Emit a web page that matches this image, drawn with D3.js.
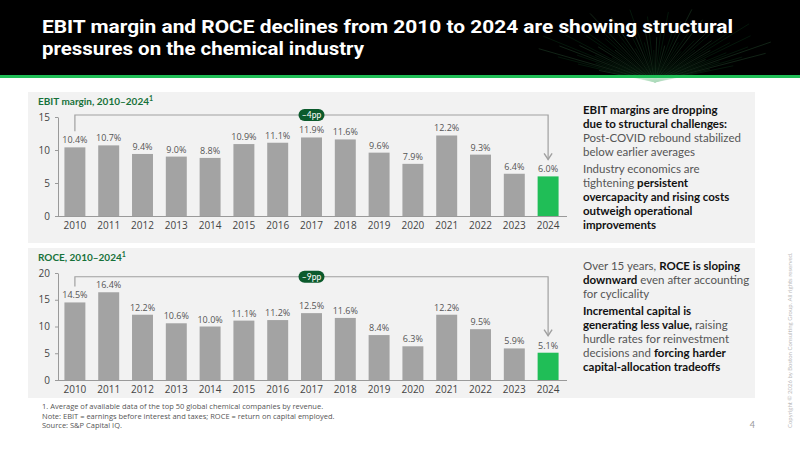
<!DOCTYPE html>
<html>
<head>
<meta charset="utf-8">
<script src="https://cdn.jsdelivr.net/npm/d3@7"></script>
<style>
  body { margin: 0; background: #fff; }
  svg { display: block; font-family: Lato, 'Noto Sans', sans-serif; }
</style>
</head>
<body>
<div id="chart"></div>
<script>
const years = ['2010', '2011', '2012', '2013', '2014', '2015', '2016', '2017',
  '2018', '2019', '2020', '2021', '2022', '2023', '2024'];
const ebitMargin = [10.4, 10.7, 9.4, 9.0, 8.8, 10.9, 11.1, 11.9, 11.6, 9.6, 7.9, 12.2, 9.3, 6.4, 6.0];
const roce = [14.5, 16.4, 12.2, 10.6, 10.0, 11.1, 11.2, 12.5, 11.6, 8.4, 6.3, 12.2, 9.5, 5.9, 5.1];
const ebitTicks = [0, 5, 10, 15];
const roceTicks = [0, 5, 10, 15, 20];

const titleLines = [
  'EBIT margin and ROCE declines from 2010 to 2024 are showing structural',
  'pressures on the chemical industry'
];

// each text line is a list of [text, bold] runs
const ebitNotes = [
  [['EBIT margins are dropping', true]],
  [['due to structural challenges:', true]],
  [['Post-COVID rebound stabilized', false]],
  [['below earlier averages', false]],
  null,
  [['Industry economics are', false]],
  [['tightening ', false], ['persistent', true]],
  [['overcapacity and rising costs', true]],
  [['outweigh operational', true]],
  [['improvements', true]]
];
const roceNotes = [
  [['Over 15 years, ', false], ['ROCE is sloping', true]],
  [['downward', true], [' even after accounting', false]],
  [['for cyclicality', false]],
  null,
  [['Incremental capital is', true]],
  [['generating less value,', true], [' raising', false]],
  [['hurdle rates for reinvestment', false]],
  [['decisions and ', false], ['forcing harder', true]],
  [['capital-allocation tradeoffs', true]]
];

const footnotes = [
  '1. Average of available data of the top 50 global chemical companies by revenue.',
  'Note: EBIT = earnings before interest and taxes; ROCE = return on capital employed.',
  'Source: S&P Capital IQ.'
];

const width = 800;
const height = 450;
const barColor = '#a3a3a3';
const highlightColor = '#20be57';
const darkGreen = '#0b5a2c';
const titleGreen = '#17713a';

const svg = d3.select('#chart')
  .append('svg')
  .attr('width', width)
  .attr('height', height);

// header band
svg.append('rect')
  .attr('width', width)
  .attr('height', 76)
  .attr('fill', '#000');

// faint green light rays in the header corner
let rays = svg.append('g').attr('opacity', 0.4);
for (let i = 0; i < 60; i++) {
  let a = -Math.PI / 2 + (i / 59 - 0.5) * 2.4;
  let len = 20 + ((i * 37) % 29);
  rays.append('line')
    .attr('x1', 655)
    .attr('y1', 82)
    .attr('x2', 655 + Math.cos(a) * len * 3)
    .attr('y2', 82 + Math.sin(a) * len * 1.6)
    .attr('stroke', i % 3 === 0 ? '#6fdc8c' : '#1e8f45')
    .attr('stroke-width', 0.4);
}

svg.append('rect')
  .attr('y', 75)
  .attr('width', width)
  .attr('height', 3)
  .attr('fill', highlightColor);

svg.append('g')
  .selectAll('text')
  .data(titleLines)
  .enter()
  .append('text')
  .attr('x', 42)
  .attr('y', (_, i) => 33 + i * 21.5)
  .attr('fill', '#fff')
  .attr('font-size', 18)
  .attr('font-weight', 700)
  .attr('font-family', 'Roboto, sans-serif')
  .attr('textLength', (_, i) => i === 0 ? 691 : 322)
  .attr('lengthAdjust', 'spacingAndGlyphs')
  .text(d => d);

function panel({ top, bottom, title, values, ticks, yMax, bracketLevel, delta, notes, axisTop, axisBottom }) {
  let g = svg.append('g');

  g.append('rect')
    .attr('x', 28)
    .attr('y', top)
    .attr('width', 727)
    .attr('height', bottom - top)
    .attr('fill', '#f2f2f2');

  g.append('text')
    .attr('x', 38)
    .attr('y', top + 13)
    .attr('fill', titleGreen)
    .attr('font-size', 10)
    .attr('font-weight', 700)
    .text(title)
    .append('tspan')
    .attr('font-size', 7)
    .attr('dy', -4)
    .text('1');

  let x = d3.scaleBand()
    .domain(years)
    .range([58, 565])
    .paddingInner(0.38)
    .paddingOuter(0.19);

  let y = d3.scaleLinear()
    .domain([0, yMax])
    .range([axisBottom, axisTop]);

  // y axis
  let yAxis = g.append('g')
    .attr('transform', 'translate(58,0)')
    .call(d3.axisLeft(y).tickValues(ticks).tickSize(3).tickSizeOuter(0).tickPadding(5));
  yAxis.select('.domain').attr('stroke', '#9a9a9a');
  yAxis.selectAll('.tick line').attr('stroke', '#9a9a9a');
  yAxis.selectAll('.tick text')
    .attr('fill', '#444')
    .attr('font-size', 10)
    .attr('font-family', "'Open Sans', sans-serif");

  // bars
  g.append('g')
    .selectAll('rect')
    .data(values)
    .enter()
    .append('rect')
    .attr('x', (_, i) => x(years[i]))
    .attr('y', d => y(d))
    .attr('width', x.bandwidth())
    .attr('height', d => y(0) - y(d))
    .attr('fill', (_, i) => i === values.length - 1 ? highlightColor : barColor);

  // value labels
  g.append('g')
    .selectAll('text')
    .data(values)
    .enter()
    .append('text')
    .attr('x', (_, i) => x(years[i]) + x.bandwidth() / 2)
    .attr('y', d => y(d) - 4)
    .attr('text-anchor', 'middle')
    .attr('fill', '#555')
    .attr('font-size', 9)
    .attr('font-family', "'Open Sans', sans-serif")
    .text(d => d.toFixed(1) + '%');

  // x axis
  let xAxis = g.append('g')
    .attr('transform', `translate(0,${axisBottom})`)
    .call(d3.axisBottom(x).tickSize(0).tickPadding(6));
  xAxis.select('.domain')
    .attr('stroke', '#9a9a9a')
    .attr('d', 'M58,0.5H567');
  xAxis.selectAll('.tick text')
    .attr('fill', '#444')
    .attr('font-size', 10)
    .attr('font-family', "'Open Sans', sans-serif");

  // bracket from first to last year
  let first = x(years[0]) + x.bandwidth() / 2;
  let last = x(years[years.length - 1]) + x.bandwidth() / 2;
  let by = y(bracketLevel);
  let startEnd = y(values[0]) - 16;
  let arrowEnd = y(values[values.length - 1]) - 17;
  g.append('path')
    .attr('d', `M${first},${startEnd}V${by}H${last}V${arrowEnd}`)
    .attr('fill', 'none')
    .attr('stroke', '#a0a0a0')
    .attr('stroke-width', 1.2);
  g.append('path')
    .attr('d', `M${last - 4},${arrowEnd - 6}L${last},${arrowEnd}L${last + 4},${arrowEnd - 6}`)
    .attr('fill', 'none')
    .attr('stroke', '#a0a0a0')
    .attr('stroke-width', 1.4);

  let pillX = x('2017') + x.bandwidth() / 2;
  g.append('rect')
    .attr('x', pillX - 13)
    .attr('y', by - 6)
    .attr('width', 26)
    .attr('height', 12)
    .attr('rx', 6)
    .attr('fill', darkGreen);
  g.append('text')
    .attr('x', pillX)
    .attr('y', by + 3)
    .attr('text-anchor', 'middle')
    .attr('fill', '#fff')
    .attr('font-size', 8.5)
    .text(delta);

  // commentary text
  let noteY = top + 22;
  let noteG = g.append('g');
  notes.forEach(line => {
    if (line === null) {
      noteY += 3;
      return;
    }
    let t = noteG.append('text')
      .attr('x', 583)
      .attr('y', noteY)
      .attr('font-size', 11.5)
      .attr('fill', '#333');
    line.forEach(([s, bold]) => {
      t.append('tspan')
        .attr('font-weight', bold ? 700 : 400)
        .attr('fill', bold ? '#111' : '#555')
        .text(s);
    });
    noteY += 14;
  });
}

panel({
  top: 92, bottom: 243,
  title: 'EBIT margin, 2010–2024',
  values: ebitMargin, ticks: ebitTicks, yMax: 15,
  bracketLevel: 15.3, delta: '–4pp', notes: ebitNotes,
  axisTop: 117, axisBottom: 216
});

panel({
  top: 248, bottom: 398,
  title: 'ROCE, 2010–2024',
  values: roce, ticks: roceTicks, yMax: 20,
  bracketLevel: 19.3, delta: '–9pp', notes: roceNotes,
  axisTop: 273, axisBottom: 380
});

// footnotes
svg.append('g')
  .selectAll('text')
  .data(footnotes)
  .enter()
  .append('text')
  .attr('x', 42)
  .attr('y', (_, i) => 409 + i * 9.5)
  .attr('fill', '#555')
  .attr('font-size', 7.5)
  .attr('font-family', "'Open Sans', sans-serif")
  .text(d => d);

svg.append('text')
  .attr('x', 755)
  .attr('y', 428)
  .attr('text-anchor', 'end')
  .attr('fill', '#999')
  .attr('font-size', 9)
  .text('4');

svg.append('text')
  .attr('transform', 'translate(792,428) rotate(-90)')
  .attr('fill', '#bbb')
  .attr('font-size', 6)
  .text('Copyright © 2026 by Boston Consulting Group. All rights reserved.');
</script>
</body>
</html>
